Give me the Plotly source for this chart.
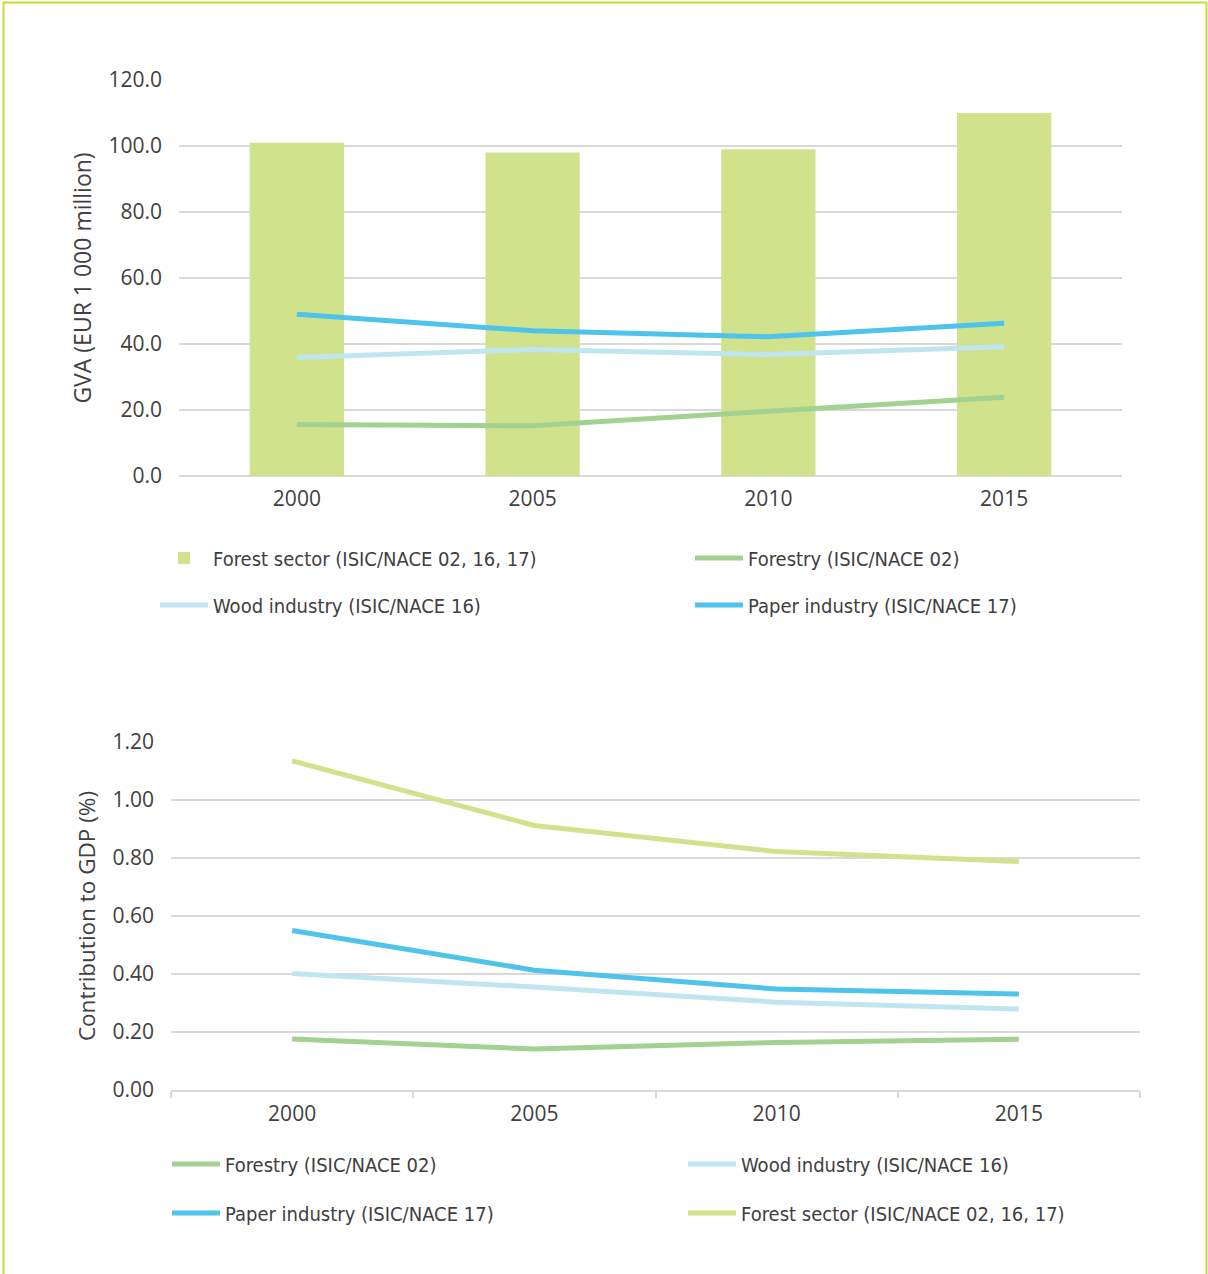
import plotly.graph_objects as go

W, H = 1208, 1274
OFF = 0  # body margin removed via post_script

years = ["2000", "2005", "2010", "2015"]

# Top chart: GVA (EUR 1 000 million)
gva_forest_sector = [101.0, 98.0, 99.0, 110.0]
gva_forestry = [15.6, 15.2, 19.6, 23.9]
gva_wood = [35.9, 38.3, 36.8, 39.2]
gva_paper = [49.0, 44.0, 42.2, 46.3]

# Bottom chart: contribution to GDP (%)
gdp_forestry = [0.176, 0.141, 0.164, 0.175]
gdp_wood = [0.402, 0.355, 0.303, 0.279]
gdp_paper = [0.550, 0.413, 0.348, 0.331]
gdp_forest_sector = [1.135, 0.912, 0.822, 0.788]

name_sector = "Forest sector (ISIC/NACE 02, 16, 17)"
name_forestry = "Forestry (ISIC/NACE 02)"
name_wood = "Wood industry (ISIC/NACE 16)"
name_paper = "Paper industry (ISIC/NACE 17)"

c_sector = "#d0e28c"
c_forestry = "#a3d191"
c_wood = "#bfe5f0"
c_paper = "#4fc3ec"

TXT = "#404040"
GRID = "#d9d9d9"
FONT = "Open Sans, Lato, sans-serif"
TICKFONT = dict(family=FONT, size=21, color=TXT)
LEGFONT = dict(family="Liberation Sans Narrow, DejaVu Sans Condensed, Arial Narrow, sans-serif",
               size=20, color=TXT)

fig = go.Figure()

# --- top chart ---
fig.add_trace(go.Bar(x=years, y=gva_forest_sector, name=name_sector,
                     marker=dict(color=c_sector, line=dict(width=0)),
                     xaxis="x", yaxis="y", legend="legend"))
fig.add_trace(go.Scatter(x=years, y=gva_forestry, name=name_forestry, mode="lines",
                         line=dict(color=c_forestry, width=5),
                         xaxis="x", yaxis="y", legend="legend2"))
fig.add_trace(go.Scatter(x=years, y=gva_wood, name=name_wood, mode="lines",
                         line=dict(color=c_wood, width=5),
                         xaxis="x", yaxis="y", legend="legend3"))
fig.add_trace(go.Scatter(x=years, y=gva_paper, name=name_paper, mode="lines",
                         line=dict(color=c_paper, width=5),
                         xaxis="x", yaxis="y", legend="legend4"))

# --- bottom chart ---
fig.add_trace(go.Scatter(x=years, y=gdp_forestry, name=name_forestry, mode="lines",
                         line=dict(color=c_forestry, width=5),
                         xaxis="x2", yaxis="y2", legend="legend5"))
fig.add_trace(go.Scatter(x=years, y=gdp_wood, name=name_wood, mode="lines",
                         line=dict(color=c_wood, width=5),
                         xaxis="x2", yaxis="y2", legend="legend6"))
fig.add_trace(go.Scatter(x=years, y=gdp_paper, name=name_paper, mode="lines",
                         line=dict(color=c_paper, width=5),
                         xaxis="x2", yaxis="y2", legend="legend7"))
fig.add_trace(go.Scatter(x=years, y=gdp_forest_sector, name=name_sector, mode="lines",
                         line=dict(color=c_sector, width=5),
                         xaxis="x2", yaxis="y2", legend="legend8"))


def px_x(v):
    return (v - OFF) / W


def px_y(v):
    return 1 - (v - OFF) / H


def legend_at(x_px, y_px):
    return dict(orientation="h", x=px_x(x_px - 5), y=px_y(y_px), xanchor="left", yanchor="middle",
                font=LEGFONT, bgcolor="rgba(0,0,0,0)", itemwidth=48, borderwidth=0)


fig.update_layout(
    width=W, height=H,
    margin=dict(l=0, r=0, t=0, b=0),
    paper_bgcolor="white", plot_bgcolor="white",
    bargap=0.6,
    showlegend=True,
    xaxis=dict(domain=[px_x(179), px_x(1122)], anchor="y", type="category", range=[-0.5, 3.5],
               showgrid=False, showline=False, zeroline=False, ticks="",
               tickfont=TICKFONT, automargin=False, ticklabelstandoff=8),
    yaxis=dict(domain=[px_y(476), px_y(80)], anchor="x", range=[0, 120], dtick=20,
               tickformat=".1f", showgrid=True, gridcolor=GRID, gridwidth=1.5,
               zeroline=True, zerolinecolor=GRID, zerolinewidth=1.5, showline=False,
               ticks="", tickfont=TICKFONT, ticklabelstandoff=16, automargin=False,
               title=dict(text="GVA (EUR 1 000 million)", standoff=10,
                          font=dict(family=FONT, size=23, color=TXT))),
    xaxis2=dict(domain=[px_x(171), px_x(1140)], anchor="y2", type="category", range=[-0.5, 3.5],
                showgrid=False, showline=True, linecolor=GRID, linewidth=1.5, zeroline=False,
                ticks="outside", tickson="boundaries", ticklen=6, tickcolor=GRID, tickwidth=1.5,
                tickfont=TICKFONT, automargin=False, ticklabelstandoff=4),
    yaxis2=dict(domain=[px_y(1090), px_y(742)], anchor="x2", range=[0, 1.2], dtick=0.2,
                tickformat=".2f", showgrid=True, gridcolor=GRID, gridwidth=1.5,
                zeroline=False, showline=False, ticks="", tickfont=TICKFONT,
                ticklabelstandoff=16, automargin=False,
                title=dict(text="Contribution to GDP (%)", standoff=10,
                           font=dict(family=FONT, size=22.5, color=TXT))),
    legend=legend_at(160, 558),
    legend2=legend_at(695, 558),
    legend3=legend_at(160, 605),
    legend4=legend_at(695, 605),
    legend5=legend_at(172, 1164),
    legend6=legend_at(688, 1164),
    legend7=legend_at(172, 1213),
    legend8=legend_at(688, 1213),
    shapes=[dict(type="rect", xref="paper", yref="paper",
                 x0=px_x(3.5), x1=px_x(1206.5), y0=-0.05, y1=px_y(2.5),
                 line=dict(color="#c8dd30", width=2), fillcolor="rgba(0,0,0,0)", layer="above")],
)

fig.write_html(
    "out.html",
    config={"displayModeBar": False},
    post_script="document.body.style.margin='0';document.body.style.overflow='hidden';",
)
